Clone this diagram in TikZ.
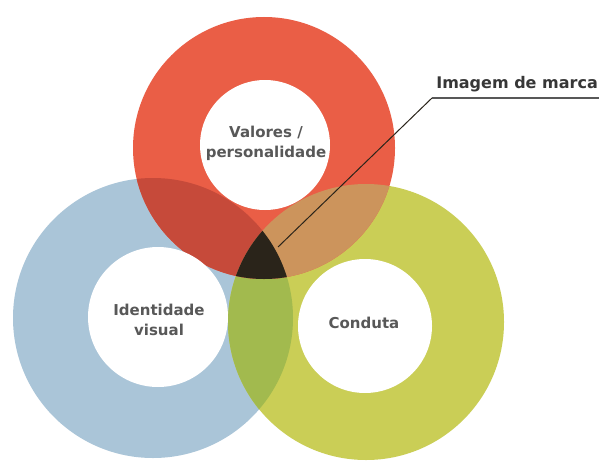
\documentclass[tikz,border=0pt]{standalone}
\usepackage{fontspec}
\setmainfont{DejaVu Sans}
\definecolor{ringred}{RGB}{234,94,70}
\definecolor{ringblue}{RGB}{170,197,216}
\definecolor{ringgreen}{RGB}{202,206,86}
\definecolor{redblue}{RGB}{198,74,58}
\definecolor{redgreen}{RGB}{204,148,92}
\definecolor{bluegreen}{RGB}{162,186,78}
\definecolor{core}{RGB}{42,36,26}
\definecolor{labelgray}{RGB}{88,88,88}
\definecolor{labeldark}{RGB}{55,55,55}
\tikzset{
  ringlabel/.style={text=labelgray, font=\bfseries\fontsize{15}{20}\selectfont, align=center},
  hole/.style={circle, fill=white, draw=none, inner sep=0pt},
}
\begin{document}
\begin{tikzpicture}[x=1pt,y=-1pt]
\useasboundingbox (0,0) rectangle (599,460);
\fill[white] (0,0) rectangle (599,460);
% outer rings
\fill[ringblue] (153,318) circle[radius=140pt];
\fill[ringgreen] (366,322) circle[radius=138pt];
\begin{scope}
  \clip (153,318) circle[radius=140pt];
  \fill[bluegreen] (366,322) circle[radius=138pt];
\end{scope}
\fill[ringred] (264,148) circle[radius=131pt];
\begin{scope}
  \clip (264,148) circle[radius=131pt];
  \fill[redblue] (153,318) circle[radius=140pt];
  \fill[redgreen] (366,322) circle[radius=138pt];
  \clip (153,318) circle[radius=140pt];
  \fill[core] (366,322) circle[radius=138pt];
\end{scope}
% inner white discs with labels
\node[hole, minimum size=130pt] (hv) at (265,145) {};
\node[hole, minimum size=140pt] (hi) at (158,317) {};
\node[hole, minimum size=134pt] (hc) at (365,326) {};
\node[ringlabel] (tv) at (266,143) {Valores /\\personalidade};
\node[ringlabel] (ti) at (159,320) {Identidade\\visual};
\node[ringlabel] (tc) at (364,323) {Conduta};
% callout
\node[text=labeldark, font=\bfseries\fontsize{16}{19}\selectfont, anchor=east, inner sep=1pt] (lbl) at (599,84) {Imagem de marca};
\coordinate (tip) at (278,247);
\coordinate (bend) at (432,98);
\draw[core, line width=1pt] (tip) -- (bend);
\draw[labelgray, line width=1.3pt] (bend) -- (bend -| lbl.east);
\end{tikzpicture}
\end{document}
